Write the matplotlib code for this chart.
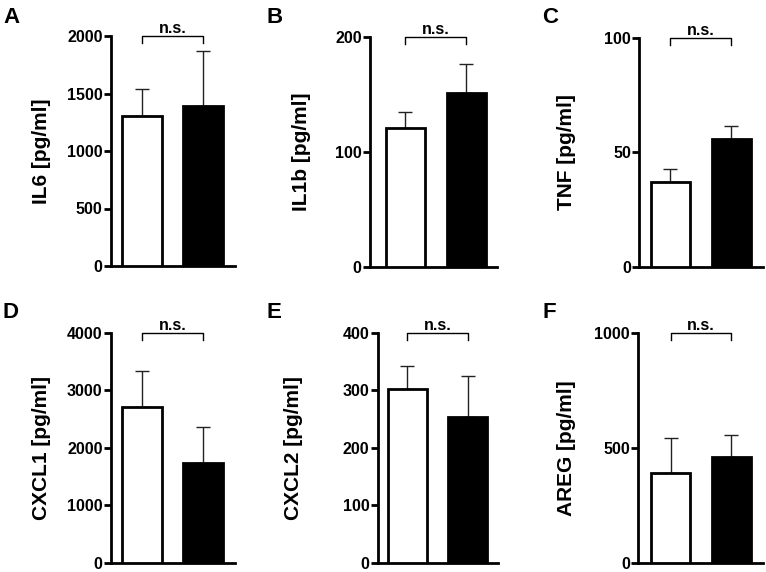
import matplotlib
matplotlib.use("Agg")
import matplotlib.pyplot as plt
from matplotlib.transforms import blended_transform_factory

plt.rcParams['font.family'] = ['Liberation Sans', 'DejaVu Sans']
plt.rcParams['font.weight'] = 'bold'

panel_letters = ["A", "B", "C", "D", "E", "F"]
ylabels = ["IL6 [pg/ml]", "IL1b [pg/ml]", "TNF [pg/ml]",
           "CXCL1 [pg/ml]", "CXCL2 [pg/ml]", "AREG [pg/ml]"]
white_means = [1304, 120.7, 37.0, 2713, 302, 392]
white_errs = [232, 14.4, 5.5, 626, 40.6, 153]
black_means = [1391, 151.7, 55.6, 1739, 253, 462]
black_errs = [481, 24.8, 6.0, 616, 72.3, 93]
ymax = [2000, 200, 100, 4000, 400, 1000]
ystep = [500, 100, 50, 1000, 100, 500]
sig_labels = ["n.s."] * 6

fig = plt.figure(figsize=(7.66, 5.72), dpi=100)

W, H = 766, 572
# pixel boxes: left, right, top, bottom
boxes = [
    (111, 235, 36, 266),
    (370, 497, 37.3, 266.7),
    (639.3, 763, 37.7, 266.7),
    (111, 235, 332.7, 562.7),
    (377.7, 498, 332.7, 562.7),
    (638.3, 763, 333.3, 562.7),
]
xlims = [(-0.51, 1.52), (-0.58, 1.5), (-0.51, 1.52),
         (-0.51, 1.52), (-0.49, 1.5), (-0.53, 1.52)]
label_right_px = [51, 311, 576, 51, 303, 576]
letter_pos = [(3, 23), (267, 23), (542, 23), (3, 318), (267, 318), (542, 318)]

for i in range(6):
    l, r, t, b = boxes[i]
    ax = fig.add_axes([l / W, 1 - b / H, (r - l) / W, (b - t) / H])
    x = [0, 1]
    ax.bar(x, [white_means[i], black_means[i]], width=0.65,
           color=['white', 'black'], edgecolor='black', linewidth=2, zorder=3)
    ax.errorbar(x, [white_means[i], black_means[i]],
                yerr=[[0, 0], [white_errs[i], black_errs[i]]],
                fmt='none', ecolor='#222222', elinewidth=1, capsize=5,
                capthick=1, zorder=2)
    ax.set_xlim(*xlims[i])
    ax.set_ylim(0, ymax[i])
    ax.set_yticks(range(0, ymax[i] + 1, ystep[i]))
    ax.set_xticks([])
    for s in ['top', 'right']:
        ax.spines[s].set_visible(False)
    for s in ['left', 'bottom']:
        ax.spines[s].set_linewidth(2)
    ax.tick_params(axis='y', width=2, length=5, labelsize=11.5, pad=1)
    for lab in ax.get_yticklabels():
        lab.set_fontweight('bold')
    ax.set_ylabel(ylabels[i], fontsize=15, fontweight='bold')
    ax.yaxis.set_label_coords((label_right_px[i] - l) / (r - l), 0.5)
    # significance bracket
    tr = ax.get_xaxis_transform()
    drop = 0.03
    ax.plot([0, 0, 1, 1], [1 - drop, 1, 1, 1 - drop], color='black',
            lw=1, transform=tr, clip_on=False)
    ax.text(0.5, 1.013, sig_labels[i], transform=tr, ha='center', va='baseline',
            fontsize=11.5, fontweight='bold')
    # panel letter
    lx, ly = letter_pos[i]
    fig.text(lx / W, 1 - ly / H, panel_letters[i],
             fontsize=16, fontweight='bold', ha='left', va='baseline')

fig.savefig("out.png", dpi=100)
